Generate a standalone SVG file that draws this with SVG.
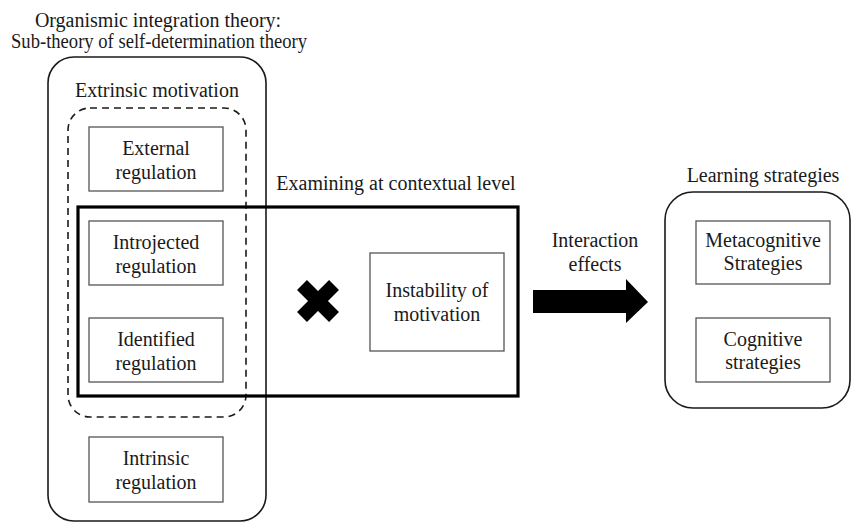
<svg xmlns="http://www.w3.org/2000/svg" width="852" height="523" viewBox="0 0 852 523">
<style>
text{font-family:"Liberation Serif","Times New Roman",serif;font-size:20px;fill:#1a1a1a;text-anchor:middle}
.grp{fill:none;stroke:#1a1a1a;stroke-width:1.6}
.box{fill:#fff;stroke:#555;stroke-width:1.3}
.dash{fill:none;stroke:#1a1a1a;stroke-width:1.6;stroke-dasharray:7,5}
.thick{fill:none;stroke:#000;stroke-width:3.2}
.x{stroke:#000;stroke-width:14;stroke-linecap:butt}
</style>
<rect width="852" height="523" fill="#fff"/>
<g id="oit-title">
<text x="158" y="27">Organismic integration theory:</text>
<text x="159" y="48" textLength="296" lengthAdjust="spacingAndGlyphs">Sub-theory of self-determination theory</text>
</g>
<g id="extrinsic-group">
<rect class="grp" x="48" y="57" width="218" height="464" rx="26"/>
<text x="157" y="97">Extrinsic motivation</text>
<rect class="dash" x="68" y="108" width="178" height="309" rx="22"/>
</g>
<g id="external">
<rect class="box" x="89" y="127" width="134" height="64"/>
<text x="156" y="155">External</text>
<text x="156" y="179">regulation</text>
</g>
<g id="introjected">
<rect class="box" x="89" y="221" width="134" height="64"/>
<text x="156" y="249">Introjected</text>
<text x="156" y="273">regulation</text>
</g>
<g id="identified">
<rect class="box" x="89" y="318" width="134" height="64"/>
<text x="156" y="346">Identified</text>
<text x="156" y="370">regulation</text>
</g>
<g id="intrinsic">
<rect class="box" x="89" y="437" width="134" height="65"/>
<text x="156" y="465">Intrinsic</text>
<text x="156" y="489">regulation</text>
</g>
<g id="contextual">
<rect class="thick" x="78" y="207" width="440" height="189"/>
<text x="396" y="190">Examining at contextual level</text>
</g>
<g id="cross">
<line class="x" x1="302" y1="285" x2="334" y2="317"/>
<line class="x" x1="334" y1="285" x2="302" y2="317"/>
</g>
<g id="instability">
<rect class="box" x="370" y="253" width="134" height="98"/>
<text x="437" y="297">Instability of</text>
<text x="437" y="321">motivation</text>
</g>
<g id="connectors">
<path d="M533,290 L626,290 L626,279 L648,302 L626,323 L626,313 L533,313 Z" fill="#000"/>
<text x="595" y="247">Interaction</text>
<text x="595" y="271">effects</text>
</g>
<g id="learning-strategies">
<text x="763" y="182">Learning strategies</text>
<rect class="grp" x="665" y="192" width="185" height="216" rx="28"/>
</g>
<g id="metacognitive">
<rect class="box" x="696" y="221" width="134" height="63"/>
<text x="763" y="247">Metacognitive</text>
<text x="763" y="270">Strategies</text>
</g>
<g id="cognitive">
<rect class="box" x="696" y="318" width="134" height="64"/>
<text x="763" y="346">Cognitive</text>
<text x="763" y="369">strategies</text>
</g>
</svg>
